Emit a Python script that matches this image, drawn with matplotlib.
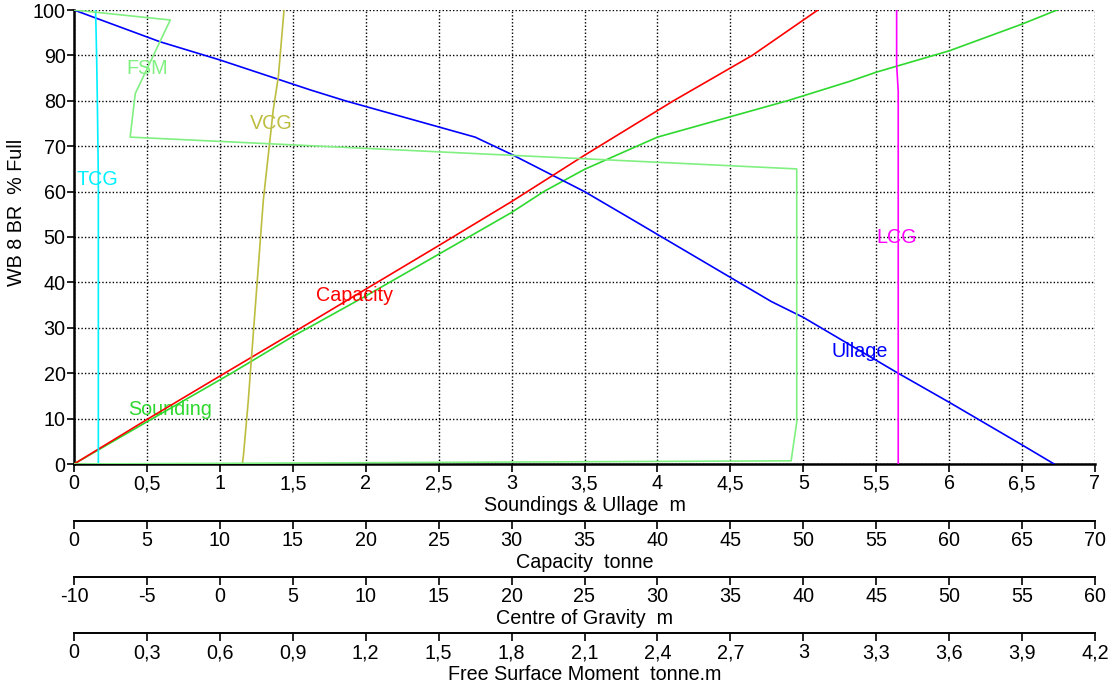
import numpy as np
import matplotlib
matplotlib.use("Agg")
import matplotlib.pyplot as plt
from matplotlib.ticker import FuncFormatter

plt.rcParams["font.family"] = ["Liberation Sans", "DejaVu Sans"]
plt.rcParams["font.size"] = 14.2

# % full for each curve and the value on its own scale
sounding_m = [0, 0.5, 1.08, 1.5, 2.0, 2.5, 3.0, 3.22, 3.5, 4.0, 4.89, 5.32, 5.5, 6.0, 6.5, 6.74]
sounding_pct = [0, 9.3, 20, 28.1, 37.0, 46.2, 55.4, 60, 64.9, 72, 80, 84.3, 86.3, 91, 96.9, 100]

ullage_m = [0, 0.59, 1.0, 1.62, 1.86, 2.75, 3.0, 3.5, 3.84, 4.78, 5.0, 5.65, 6.0, 6.5, 6.72]
ullage_pct = [100, 93, 89, 82.4, 80, 72, 68.2, 60, 53.6, 35.8, 32.3, 20, 13.6, 4.2, 0]

capacity_t = [0, 5.0, 10.8, 15.0, 20.0, 25.0, 30.0, 35.0, 41.1, 46.5, 51.0]
capacity_pct = [0, 9.8, 20.9, 28.9, 38.5, 48.1, 57.8, 68.0, 80, 90, 100]

tcg = [-8.52, -8.45, -8.40, -8.33, -8.33]
tcg_pct = [100, 90, 80, 63, 0]

lcg = [46.40, 46.40, 46.51, 46.51]
lcg_pct = [100, 88, 82, 0]

vcg = [1.54, 1.62, 1.95, 2.07, 2.98, 3.66, 4.01, 4.40]
vcg_pct = [0, 2, 14, 19.2, 58.1, 78, 85.3, 100]

fsm = [0, 0.396, 0.252, 0.231, 2.973, 2.973, 2.95, 0]
fsm_pct = [100, 97.8, 81.6, 72, 65, 9.2, 0.7, 0]

c_sound = "#2ed82e"
c_ull = "#0000ff"
c_cap = "#ff0000"
c_tcg = "#00f0ff"
c_lcg = "#ff00ff"
c_vcg = "#bdbd40"
c_fsm = "#80f080"

comma = FuncFormatter(lambda v, p: f"{v:g}".replace(".", ","))

fig = plt.figure(figsize=(11.15, 6.83), dpi=100)
ax = fig.add_axes([74 / 1115, 1 - 464 / 683, 1021 / 1115, 454 / 683])

ax.set_xlim(0, 7)
ax.set_ylim(0, 100)
ax.set_xticks(np.arange(0, 7.01, 0.5))
ax.set_yticks(np.arange(0, 101, 10))
ax.xaxis.set_major_formatter(comma)
ax.grid(True, color="black", linestyle=(0, (1, 1.5)), linewidth=1.0)
ax.set_axisbelow(True)
for s in ["top", "right"]:
    ax.spines[s].set_visible(False)
ax.spines["left"].set_linewidth(1.8)
ax.spines["bottom"].set_linewidth(1.8)
ax.tick_params(axis="x", direction="out", length=6, width=1.2, pad=1.5)
ax.tick_params(axis="y", direction="out", length=5, width=1.2, pad=1)
ax.set_xlabel("Soundings & Ullage  m", labelpad=2)
ax.set_ylabel("WB 8 BR  % Full")
ax.yaxis.set_label_coords(-0.047, 0.555)

# extra scales below the chart
def extra_axis(lo, hi, step, pos, label):
    t = ax.twiny()
    t.set_xlim(lo, hi)
    t.set_xticks(np.arange(lo, hi + step / 100, step))
    t.xaxis.set_major_formatter(comma)
    t.xaxis.set_ticks_position("bottom")
    t.xaxis.set_label_position("bottom")
    t.spines["bottom"].set_position(("axes", pos))
    t.spines["bottom"].set_linewidth(1.4)
    for s in ["top", "left", "right"]:
        t.spines[s].set_visible(False)
    t.patch.set_visible(False)
    t.tick_params(axis="x", direction="out", length=6, width=1.2, pad=1.5)
    t.set_xlabel(label, labelpad=2)
    return t

ax_cap = extra_axis(0, 70, 5, -0.1256, "Capacity  tonne")
ax_cog = extra_axis(-10, 60, 5, -0.2489, "Centre of Gravity  m")
ax_fsm = extra_axis(0, 4.2, 0.3, -0.3722, "Free Surface Moment  tonne.m")

lw = 1.2
ax_fsm.plot(fsm, fsm_pct, color=c_fsm, lw=lw)
ax_cog.plot(vcg, vcg_pct, color=c_vcg, lw=lw)
ax_cog.plot(tcg, tcg_pct, color=c_tcg, lw=lw)
ax_cog.plot(lcg, lcg_pct, color=c_lcg, lw=lw)
ax_cap.plot(capacity_t, capacity_pct, color=c_cap, lw=lw)
ax.plot(sounding_m, sounding_pct, color=c_sound, lw=lw, zorder=3)
ax.plot(ullage_m, ullage_pct, color=c_ull, lw=lw, zorder=3)

# curve names
ax_fsm.text(0.5 * 0.6, 87.2, "FSM", color=c_fsm, ha="center", va="center")
ax_cog.text(1.35 * 10 - 10, 74.9, "VCG", color=c_vcg, ha="center", va="center")
ax_cog.text(0.02 * 10 - 10, 62.6, "TCG", color=c_tcg, ha="left", va="center")
ax_cog.text(5.64 * 10 - 10, 49.8, "LCG", color=c_lcg, ha="center", va="center")
ax_cap.text(1.92 * 10, 37.2, "Capacity", color=c_cap, ha="center", va="center")
ax.text(5.39, 24.8, "Ullage", color=c_ull, ha="center", va="center", zorder=4)
ax.text(0.66, 12.1, "Sounding", color=c_sound, ha="center", va="center", zorder=4)

fig.savefig("out.png", dpi=100)
